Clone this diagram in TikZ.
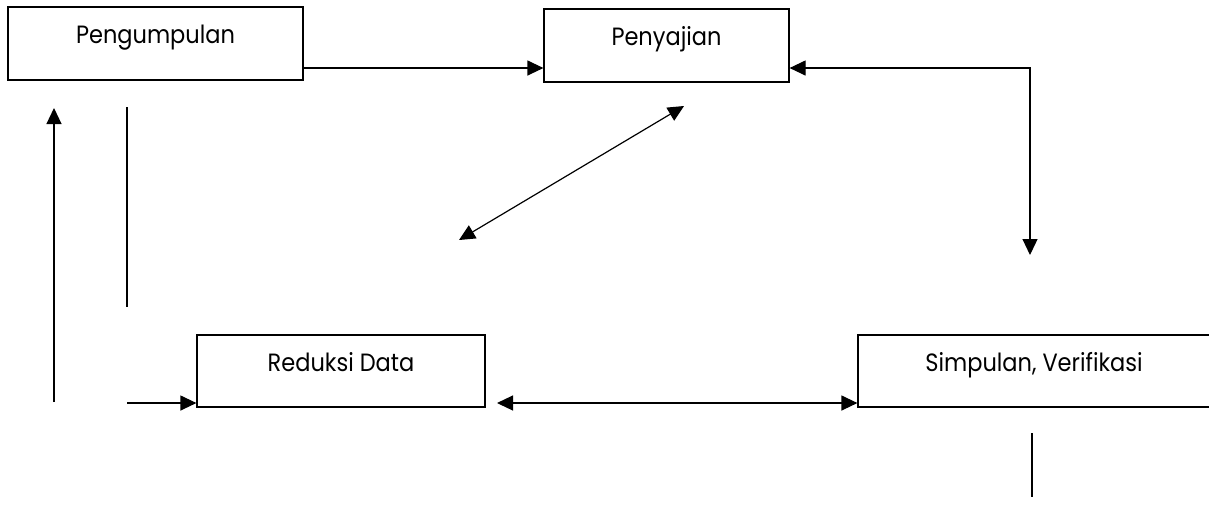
\documentclass[tikz,border=0pt]{standalone}
\usepackage{fontspec}
\setmainfont{Poppins}[FakeStretch=0.9]
\usetikzlibrary{arrows.meta}
\tikzset{
    box/.style={draw, rectangle, line width=0.6pt, minimum height=36.5pt,
        text height=6pt, text depth=6pt, font=\fontsize{12.5}{14}\selectfont},
    arr/.style={line width=0.6pt, -{Triangle[length=8pt,width=7.5pt]}},
    arrs/.style={line width=0.6pt, {Triangle[length=8pt,width=7.5pt]}-{Triangle[length=8pt,width=7.5pt]}},
    ln/.style={line width=0.6pt}
}

\begin{document}
\begin{tikzpicture}[x=0.5pt, y=-0.5pt]
        \clip (0,0) rectangle (1209,516);
        \node[box, minimum width=147.5pt] (p) at (155.5,43.5) {Pengumpulan};
        \node[box, minimum width=122.5pt] (s) at (666.5,45.5) {Penyajian};
        \node[box, minimum width=144pt, minimum height=36pt] (r) at (341,371) {Reduksi Data};
        \node[box, minimum width=176pt, minimum height=36pt] (v) at (1034,371) {Simpulan, Verifikasi};
        \coordinate (k) at (1030,255);
        \coordinate (d1) at (459,240);
        \coordinate (d2) at (684,106);
        \coordinate (u1) at (54,402);
        \coordinate (u2) at (54,108);
        \coordinate (l1) at (127,107);
        \coordinate (l2) at (127,307);
        \coordinate (l3) at (127,403);
        \coordinate (m) at (497,403);
        \coordinate (b1) at (1032,433);
        \coordinate (b2) at (1032,497);
        \draw[arr] ([yshift=-12.25pt]p.east) -- ([yshift=-12.25pt]p.east -| s.west);
        \draw[arrs] ([yshift=-11.25pt]s.east) -| (k);
        \draw[arrs] (d1) -- (d2);
        \draw[arr] (u1) -- (u2);
        \draw[ln] (l1) -- (l2);
        \draw[arr] (l3) -- (l3 -| r.west);
        \draw[arrs] (m) -- (m -| v.west);
        \draw[ln] (b1) -- (b2);
\end{tikzpicture}
\end{document}
